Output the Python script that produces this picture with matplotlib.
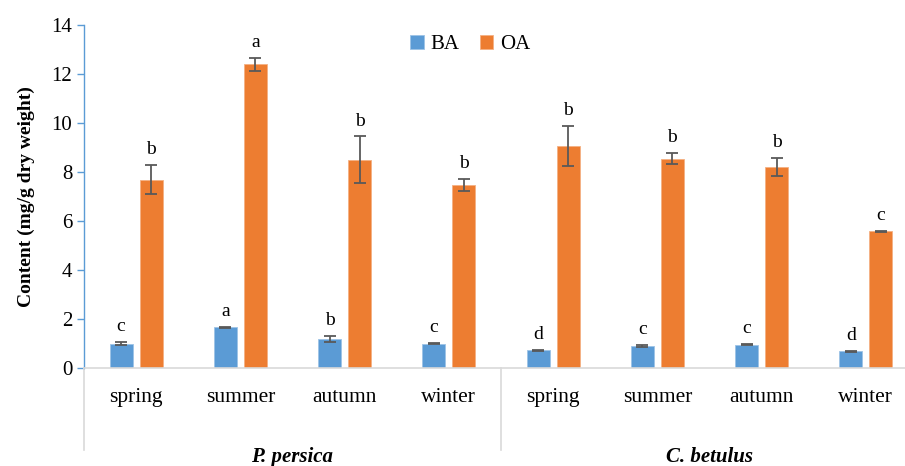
import matplotlib.pyplot as plt
import numpy as np

plt.rcParams['font.family'] = ['Liberation Serif', 'DejaVu Serif']

seasons = ['spring', 'summer', 'autumn', 'winter', 'spring', 'summer', 'autumn', 'winter']
species = ['P. persica', 'C. betulus']
ba = [1.00, 1.66, 1.20, 0.99, 0.72, 0.90, 0.95, 0.69]
ba_err = [0.07, 0.03, 0.12, 0.02, 0.02, 0.03, 0.02, 0.02]
oa = [7.69, 12.39, 8.50, 7.47, 9.05, 8.54, 8.20, 5.58]
oa_err = [0.59, 0.26, 0.95, 0.23, 0.81, 0.22, 0.37, 0.03]
ba_letters = ['c', 'a', 'b', 'c', 'd', 'c', 'c', 'd']
oa_letters = ['b', 'a', 'b', 'b', 'b', 'b', 'b', 'c']

fig = plt.figure(figsize=(9.05, 4.66), dpi=100)
ax = fig.add_axes([84/905, 98/466, 834/905, 343/466])

x = np.arange(len(seasons))
off = 0.144
w = 0.22
blue = '#5B9BD5'
orange = '#ED7D31'
ekw = dict(ecolor='#595959', elinewidth=1.3, capsize=4.5, capthick=1.3)

ax.bar(x - off, ba, w, color=blue, label='BA', edgecolor='#9DC3E6', linewidth=0.6)
ax.bar(x + off, oa, w, color=orange, label='OA', edgecolor='#F4B183', linewidth=0.6)
ax.errorbar(x - off, ba, yerr=ba_err, fmt='none', **ekw)
ax.errorbar(x + off, oa, yerr=oa_err, fmt='none', **ekw)

for xi, v, e, t in zip(x - off, ba, ba_err, ba_letters):
    ax.annotate(t, (xi, v + e), xytext=(0, 5), textcoords='offset points',
                ha='center', va='bottom', fontsize=14)
for xi, v, e, t in zip(x + off, oa, oa_err, oa_letters):
    ax.annotate(t, (xi, v + e), xytext=(0, 5), textcoords='offset points',
                ha='center', va='bottom', fontsize=14)

ax.set_xlim(-0.5, 7.5)
ax.set_ylim(0, 14)
ax.set_yticks(range(0, 15, 2))
ax.tick_params(axis='y', colors=blue, labelcolor='black', labelsize=15, length=5, width=1)
ax.set_xticks([])
for s in ['top', 'right']:
    ax.spines[s].set_visible(False)
ax.spines['left'].set_color(blue)
ax.spines['bottom'].set_color('#D9D9D9')
ax.spines['left'].set_linewidth(1.0)
ax.spines['bottom'].set_linewidth(1.2)

tr = ax.get_xaxis_transform()
for xd in [-0.5, 3.5, 7.5]:
    ax.plot([xd, xd], [0, -0.239], transform=tr, color='#D9D9D9', lw=1.2, clip_on=False)
for xi, s in zip(x, seasons):
    ax.text(xi, -0.085, s, transform=tr, ha='center', va='center', fontsize=15.5)
for xi, s in zip([1.5, 5.5], species):
    ax.text(xi, -0.26, s, transform=tr, ha='center', va='center', fontsize=15,
            fontweight='bold', fontstyle='italic')

ax.set_ylabel('Content (mg/g dry weight)', fontsize=14, fontweight='bold', labelpad=12)

ax.legend(loc='upper center', bbox_to_anchor=(0.463, 1.025), ncol=2, frameon=False,
          fontsize=15, handlelength=0.65, handleheight=0.65, handletextpad=0.3,
          columnspacing=1.0)

fig.savefig('out.png', dpi=100)
